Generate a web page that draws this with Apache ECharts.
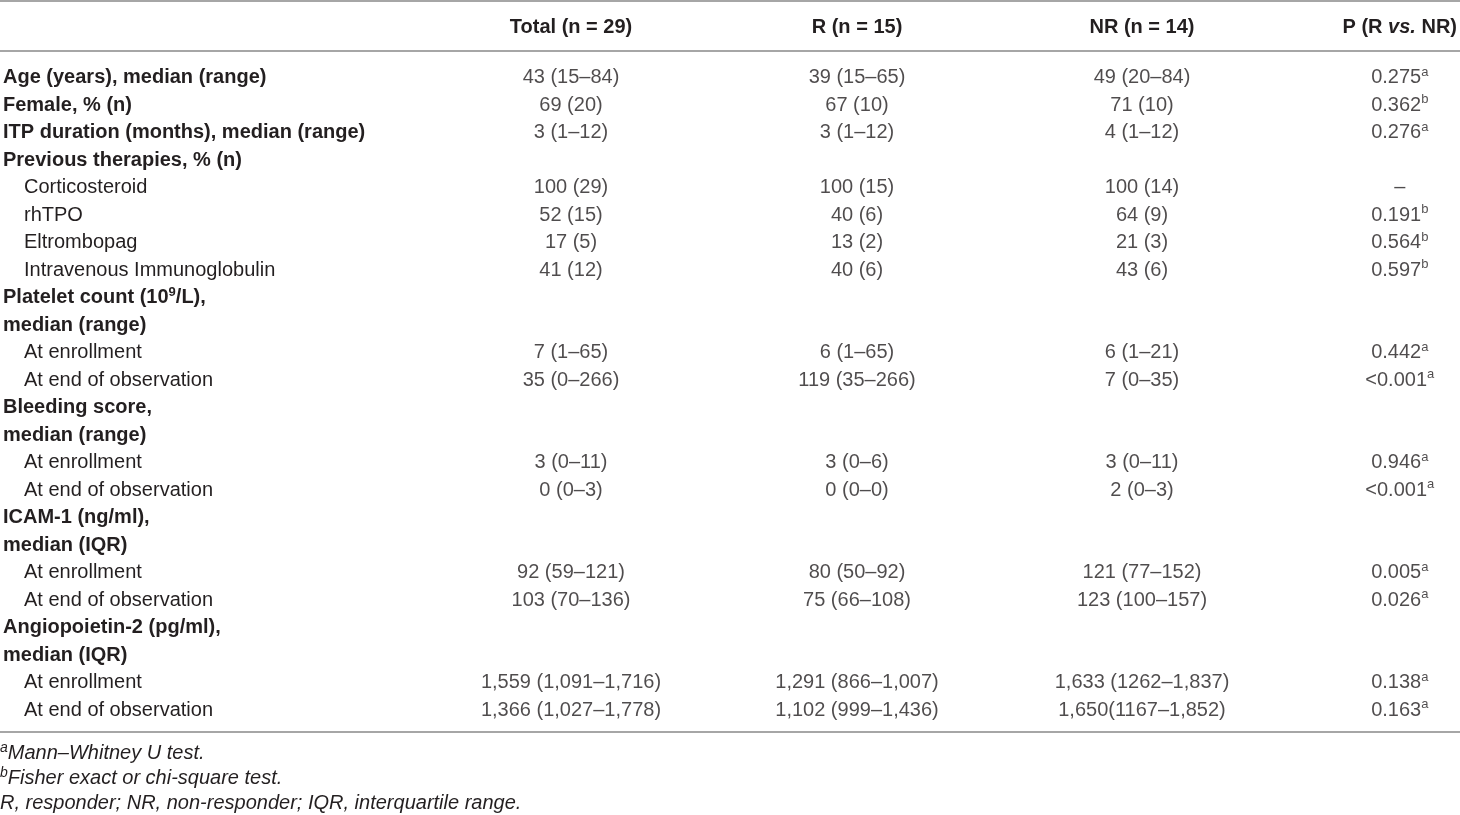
<!DOCTYPE html>
<html>
<head>
<meta charset="utf-8">
<style>
  html, body { margin: 0; padding: 0; background: #fff; }
  #table { width: 1460px; height: 815px; }
</style>
<script src="https://cdn.jsdelivr.net/npm/echarts@6/dist/echarts.min.js"></script>
</head>
<body>
<div id="table"></div>
<script>
// table content
var headers = ['Total (n = 29)', 'R (n = 15)', 'NR (n = 14)', 'P (R vs. NR)'];

var rowLabels = [
  'Age (years), median (range)',
  'Female, % (n)',
  'ITP duration (months), median (range)',
  'Previous therapies, % (n)',
  'Corticosteroid',
  'rhTPO',
  'Eltrombopag',
  'Intravenous Immunoglobulin',
  'Platelet count (10^9/L),',
  'median (range)',
  'At enrollment',
  'At end of observation',
  'Bleeding score,',
  'median (range)',
  'At enrollment',
  'At end of observation',
  'ICAM-1 (ng/ml),',
  'median (IQR)',
  'At enrollment',
  'At end of observation',
  'Angiopoietin-2 (pg/ml),',
  'median (IQR)',
  'At enrollment',
  'At end of observation'
];
// 0 = bold heading, 1 = indented sub row
var rowLevel = [0, 0, 0, 0, 1, 1, 1, 1, 0, 0, 1, 1, 0, 0, 1, 1, 0, 0, 1, 1, 0, 0, 1, 1];

var totalVals = ['43 (15–84)', '69 (20)', '3 (1–12)', '', '100 (29)', '52 (15)', '17 (5)', '41 (12)',
  '', '', '7 (1–65)', '35 (0–266)', '', '', '3 (0–11)', '0 (0–3)', '', '', '92 (59–121)', '103 (70–136)',
  '', '', '1,559 (1,091–1,716)', '1,366 (1,027–1,778)'];
var rVals = ['39 (15–65)', '67 (10)', '3 (1–12)', '', '100 (15)', '40 (6)', '13 (2)', '40 (6)',
  '', '', '6 (1–65)', '119 (35–266)', '', '', '3 (0–6)', '0 (0–0)', '', '', '80 (50–92)', '75 (66–108)',
  '', '', '1,291 (866–1,007)', '1,102 (999–1,436)'];
var nrVals = ['49 (20–84)', '71 (10)', '4 (1–12)', '', '100 (14)', '64 (9)', '21 (3)', '43 (6)',
  '', '', '6 (1–21)', '7 (0–35)', '', '', '3 (0–11)', '2 (0–3)', '', '', '121 (77–152)', '123 (100–157)',
  '', '', '1,633 (1262–1,837)', '1,650(1167–1,852)'];
var pVals = ['0.275', '0.362', '0.276', '', '–', '0.191', '0.564', '0.597',
  '', '', '0.442', '<0.001', '', '', '0.946', '<0.001', '', '', '0.005', '0.026',
  '', '', '0.138', '0.163'];
var pNotes = ['a', 'b', 'a', '', '', 'b', 'b', 'b',
  '', '', 'a', 'a', '', '', 'a', 'a', '', '', 'a', 'a',
  '', '', 'a', 'a'];

var footnotes = [
  ['a', 'Mann–Whitney U test.'],
  ['b', 'Fisher exact or chi-square test.'],
  ['', 'R, responder; NR, non-responder; IQR, interquartile range.']
];

var columns = [totalVals, rVals, nrVals, pVals];

var FONT = '"Liberation Sans", Arial, Helvetica, sans-serif';
var INK = '#231f20';
var colCenters = [571, 857, 1142, 1403];
var rowTop = 64, rowHeight = 660;

var chart = echarts.init(document.getElementById('table'));

var rowIdx = rowLabels.map(function (r, i) { return i; });

var grids = [{ left: -3, top: rowTop, width: 10, height: rowHeight }];
var xAxes = [{ type: 'category', gridIndex: 0, data: [''], show: false }];
var yAxes = [{
  type: 'category', gridIndex: 0, data: rowIdx, inverse: true,
  axisLine: { show: false }, axisTick: { show: false }, splitLine: { show: false },
  axisLabel: {
    inside: true, margin: 0, interval: 0,
    formatter: function (v) {
      var t = rowLabels[v];
      if (rowLevel[v] === 1) return '{n|' + t + '}';
      return '{b|' + t.replace(/\^(\w+)/, '}{bs|$1}{b|') + '}';
    },
    rich: {
      b: { fontFamily: FONT, fontSize: 20, fontWeight: 'bold', color: INK, lineHeight: 24 },
      bs: { fontFamily: FONT, fontSize: 13, fontWeight: 'bold', color: INK, verticalAlign: 'top' },
      n: { fontFamily: FONT, fontSize: 20, color: INK, lineHeight: 24, padding: [0, 0, 0, 21] }
    }
  }
}];
var series = [];

columns.forEach(function (vals, k) {
  var gi = k + 1;
  grids.push({ left: colCenters[k] - 50, top: rowTop, width: 100, height: rowHeight });
  xAxes.push({
    type: 'category', gridIndex: gi, data: [headers[k]], position: 'top',
    axisLine: { show: false }, axisTick: { show: false }, splitLine: { show: false },
    axisLabel: {
      margin: 27, interval: 0,
      formatter: function (v) {
        return '{h|' + v.replace(' vs. ', ' }{hi|vs.}{h| ') + '}';
      },
      rich: {
        h: { fontFamily: FONT, fontSize: 20, fontWeight: 'bold', color: INK },
        hi: { fontFamily: FONT, fontSize: 20, fontWeight: 'bold', fontStyle: 'italic', color: INK }
      }
    }
  });
  yAxes.push({ type: 'category', gridIndex: gi, data: rowIdx, inverse: true, show: false });

  var data = [];
  vals.forEach(function (v, i) {
    if (v !== '') data.push([0, i, v, k === 3 ? pNotes[i] : '']);
  });

  series.push({
    type: 'scatter', xAxisIndex: gi, yAxisIndex: gi,
    symbolSize: 1, itemStyle: { color: 'rgba(0,0,0,0)' },
    silent: true, animation: false,
    data: data,
    label: {
      show: true, position: 'inside',
      formatter: function (p) {
        var s = '{v|' + p.value[2] + '}';
        if (p.value[3]) s += '{s|' + p.value[3] + '}';
        return s;
      },
      rich: {
        v: { fontFamily: FONT, fontSize: 20, color: INK, lineHeight: 24 },
        s: { fontFamily: FONT, fontSize: 13, color: INK, verticalAlign: 'top' }
      }
    }
  });
});

var footText = footnotes.map(function (f) {
  return (f[0] ? '{s|' + f[0] + '}' : '') + '{i|' + f[1] + '}';
}).join('\n');

var option = {
  backgroundColor: '#fff',
  grid: grids,
  xAxis: xAxes,
  yAxis: yAxes,
  series: series,
  title: {
    left: 0, top: 741, padding: 0,
    text: footText,
    textStyle: {
      fontWeight: 'normal',
      rich: {
        i: { fontFamily: FONT, fontSize: 20, fontWeight: 'normal', fontStyle: 'italic', color: INK, lineHeight: 25 },
        s: { fontFamily: FONT, fontSize: 14, fontWeight: 'normal', fontStyle: 'italic', color: INK, verticalAlign: 'top' }
      }
    }
  },
  graphic: [
    { type: 'line', shape: { x1: 0, y1: 1, x2: 1460, y2: 1 }, style: { stroke: '#a6a6a6', lineWidth: 2 } },
    { type: 'line', shape: { x1: 0, y1: 51, x2: 1460, y2: 51 }, style: { stroke: '#a6a6a6', lineWidth: 2 } },
    { type: 'line', shape: { x1: 0, y1: 732, x2: 1460, y2: 732 }, style: { stroke: '#a6a6a6', lineWidth: 2 } }
  ]
};

chart.setOption(option);
</script>
</body>
</html>
